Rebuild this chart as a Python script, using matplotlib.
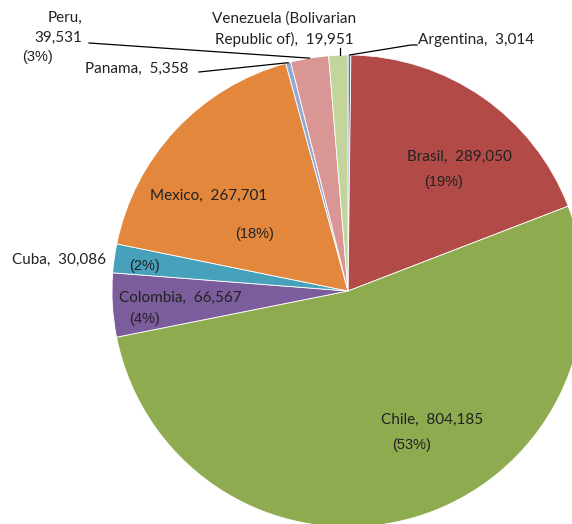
import matplotlib.pyplot as plt
import numpy as np

countries = ["Argentina", "Brasil", "Chile", "Colombia", "Cuba", "Mexico",
             "Panama", "Peru", "Venezuela (Bolivarian\nRepublic of)"]
values = [3014, 289050, 804185, 66567, 30086, 267701, 5358, 39531, 19951]
colors = ["#4A7EBB", "#B24A47", "#8EAB50", "#7C5D9B", "#48A1BA", "#E2873B",
          "#93AAD6", "#D99694", "#C3D59B"]

H = 524
NAME_FONT = "Lato"
PCT_FONT = "Liberation Sans"

fig = plt.figure(figsize=(5.72, 5.24), dpi=100)
ax = fig.add_axes([0, 0, 1, 1])

cx, cy, r = 348, H - 291, 236
wedges, _ = ax.pie(values, colors=colors, startangle=90, counterclock=False,
                   center=(cx, cy), radius=r,
                   wedgeprops=dict(edgecolor="white", linewidth=0.6))
ax.set_xlim(0, 572)
ax.set_ylim(0, H)
ax.set_aspect("equal")
ax.axis("off")

total = sum(values)
pct = [f"({v / total * 100:.0f}%)" for v in values]


def fmt(v):
    return f"{v:,}"


def name_text(x, y, s, ha="left"):
    ax.text(x, H - y, s, ha=ha, va="center", fontsize=11, family=NAME_FONT,
            color="#222222", linespacing=1.5)


def pct_text(x, y, s):
    ax.text(x, H - y, s, ha="left", va="center", fontsize=10.5,
            family=PCT_FONT, color="#222222")


def anchor(i):
    w = wedges[i]
    t = np.deg2rad((w.theta1 + w.theta2) / 2)
    return cx + r * np.cos(t), cy + r * np.sin(t)


# labels inside the big slices
name_text(407, 157, f"{countries[1]},  {fmt(values[1])}")
pct_text(424, 182, pct[1])
name_text(381, 420, f"{countries[2]},  {fmt(values[2])}")
pct_text(392, 445, pct[2])
name_text(150, 196, f"{countries[5]},  {fmt(values[5])}")
pct_text(235, 234, pct[5])
name_text(119, 298, f"{countries[3]},  {fmt(values[3])}")
pct_text(129, 319, pct[3])
name_text(12, 260, f"{countries[4]},  {fmt(values[4])}")
pct_text(129, 266, pct[4])

# outside labels with leader lines
name_text(85, 69, f"{countries[6]},  {fmt(values[6])}")
ax.plot([199, anchor(6)[0]], [H - 72, anchor(6)[1]], color="black", lw=0.9)

name_text(82, 28, f"{countries[7]},\n{fmt(values[7])}", ha="right")
pct_text(22, 57, pct[7])
ax.plot([89, anchor(7)[0]], [H - 43, anchor(7)[1]], color="black", lw=0.9)

name_text(284, 29, f"{countries[8]},  {fmt(values[8])}", ha="center")
ax.plot([anchor(8)[0] + 2] * 2, [H - 48, anchor(8)[1]], color="black", lw=0.9)

name_text(418, 40, f"{countries[0]},  {fmt(values[0])}")
a = anchor(0)
ax.plot([a[0], 411, 417], [a[1], H - 45, H - 45], color="black", lw=0.9)

fig.savefig("out.png", dpi=100)
